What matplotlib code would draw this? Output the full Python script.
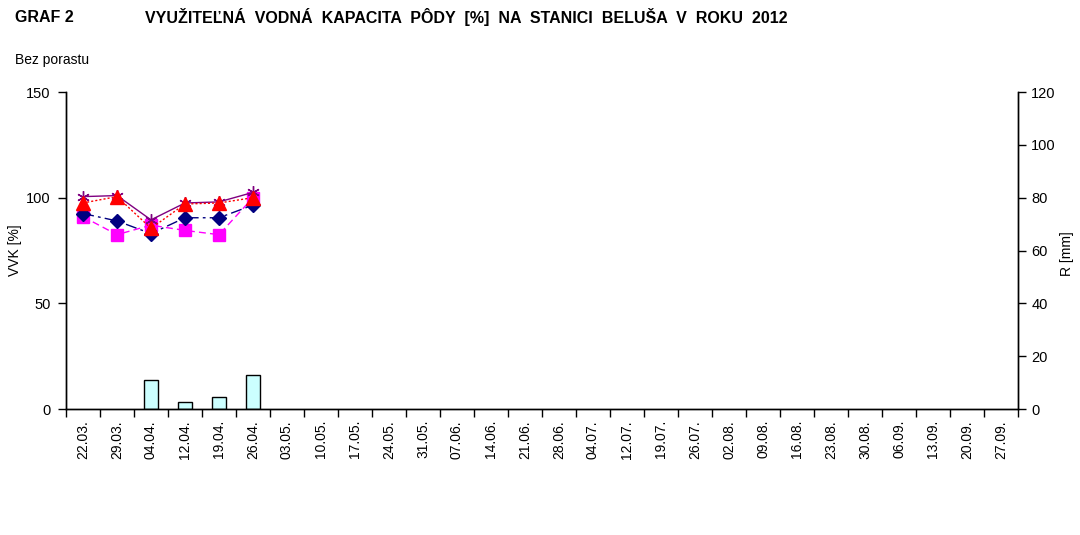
import matplotlib
matplotlib.use("Agg")
import matplotlib.pyplot as plt
import numpy as np

# ── data ──────────────────────────────────────────────────────────────────────
dates = ["22.03.", "29.03.", "04.04.", "12.04.", "19.04.", "26.04.", "03.05.",
         "10.05.", "17.05.", "24.05.", "31.05.", "07.06.", "14.06.", "21.06.",
         "28.06.", "04.07.", "12.07.", "19.07.", "26.07.", "02.08.", "09.08.",
         "16.08.", "23.08.", "30.08.", "06.09.", "13.09.", "20.09.", "27.09."]

vvk_star = [100.5, 101.0, 89.5, 97.5, 98.0, 102.5]
vvk_triangle = [97.5, 100.5, 85.5, 97.0, 97.5, 100.0]
vvk_diamond = [92.5, 89.0, 83.0, 90.5, 90.5, 96.5]
vvk_square = [91.0, 82.5, 87.0, 84.5, 82.5, 100.0]

rain_dates = ["04.04.", "12.04.", "19.04.", "26.04."]
rain = [11.0, 2.5, 4.6, 13.0]

plt.rcParams["font.family"] = ["Liberation Sans", "DejaVu Sans"]

fig = plt.figure(figsize=(10.8, 5.35), dpi=100)
ax = fig.add_axes([0.0611, 0.2355, 0.8815, 0.5925])
ax2 = ax.twinx()

x = np.arange(len(dates))
xr = [dates.index(d) for d in rain_dates]

# rain bars on right axis
ax2.bar(xr, rain, width=0.44, color="#ccffff", edgecolor="black", linewidth=1.0, zorder=1)
ax2.set_ylim(0, 120)
ax2.set_yticks(range(0, 121, 20))

# VVK lines on left axis
n = len(vvk_star)
ax.plot(x[:n], vvk_square, color="#ff00ff", ls=(0, (5, 3)), lw=1.0,
        marker="s", ms=9, mec="#ff00ff", zorder=3)
ax.plot(x[:n], vvk_diamond, color="#000080", ls=(0, (8, 3, 2, 3)), lw=1.0,
        marker="D", ms=7, mec="#000080", zorder=3)
ax.plot(x[:n], vvk_star, color="#800080", ls="-", lw=1.0,
        marker=(6, 2, 0), ms=9, mec="#800080", zorder=3)
ax.plot(x[:n], vvk_triangle, color="#ff0000", ls=(0, (1.5, 1.5)), lw=1.0,
        marker="^", ms=10, mec="#ff0000", zorder=4)

ax.set_zorder(ax2.get_zorder() + 1)
ax.patch.set_visible(False)

ax.set_xlim(-0.5, len(dates) - 0.5)
ax.set_ylim(0, 150)
ax.set_yticks([0, 50, 100, 150])

# ticks at category boundaries, labels at centers
ax.set_xticks(np.arange(-0.5, len(dates), 1.0))
ax.set_xticklabels([])
ax.set_xticks(x, minor=True)
ax.set_xticklabels(dates, minor=True, rotation=90, fontsize=10)
ax.tick_params(axis="x", which="minor", length=0, pad=8)
ax.tick_params(axis="x", which="major", direction="out", length=6, width=1)
ax.tick_params(axis="y", direction="out", length=6, width=1, labelsize=10.5, pad=5)
ax2.tick_params(axis="y", direction="out", length=6, width=1, labelsize=10.5)

for a in (ax, ax2):
    a.spines["top"].set_visible(False)
    for s in ("left", "right", "bottom"):
        a.spines[s].set_linewidth(1.0)

ax.set_ylabel("VVK [%]", fontsize=10)
ax.yaxis.set_label_coords(-0.046, 0.5)
ax2.set_ylabel("R [mm]", fontsize=10)
ax2.yaxis.set_label_coords(1.044, 0.49)

fig.text(0.014, 0.968, "GRAF 2", fontsize=11.5, fontweight="bold", va="center")
fig.text(0.134, 0.968, "VYUŽITEĽNÁ  VODNÁ  KAPACITA  PÔDY  [%]  NA  STANICI  BELUŠA  V  ROKU  2012",
         fontsize=11.5, fontweight="bold", va="center")
fig.text(0.014, 0.888, "Bez porastu", fontsize=10, va="center")

fig.savefig("out.png", dpi=100)
